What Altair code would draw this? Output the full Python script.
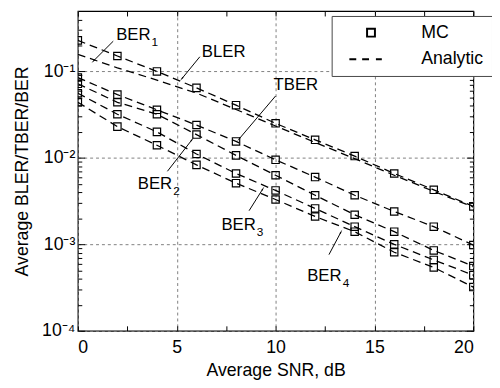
import math
import altair as alt
import pandas as pd

# ---------------- data ----------------
snr = [0, 2, 4, 6, 8, 10, 12, 14, 16, 18, 20]

bler = [0.229, 0.151, 0.100, 0.0646, 0.0407, 0.0251, 0.0162, 0.0105, 0.0066, 0.00427, 0.00275]
ber1 = [0.158, 0.110, 0.0794, 0.0562, 0.0363, 0.0234, 0.0151, 0.0098, 0.0063, 0.0041, 0.0027]
tber = [0.085, 0.054, 0.036, 0.024, 0.0155, 0.0095, 0.0060, 0.0037, 0.0024, 0.0016, 0.00098]
ber2 = [0.072, 0.044, 0.032, 0.0186, 0.0107, 0.0063, 0.0037, 0.0022, 0.0014, 0.00085, 0.00056]
ber3 = [0.056, 0.032, 0.020, 0.0111, 0.0066, 0.0042, 0.0026, 0.0016, 0.0010, 0.00066, 0.00044]
ber4 = [0.044, 0.023, 0.014, 0.0083, 0.0051, 0.0033, 0.0021, 0.0014, 0.00081, 0.00054, 0.00032]

mc_bler = [0.229, 0.151, 0.100, 0.0646, 0.0407, 0.0251, 0.0162, 0.0105, 0.0066, 0.00427, 0.00275]
mc_tber = [0.085, 0.054, 0.036, 0.024, 0.0155, 0.0095, 0.0060, 0.0037, 0.0024, 0.0016, 0.00098]
mc_ber2 = [0.072, 0.044, 0.032, 0.0186, 0.0107, 0.0063, 0.0037, 0.0022, 0.0014, 0.00085, 0.00056]
mc_ber3 = [0.056, 0.032, 0.020, 0.0111, 0.0066, 0.0042, 0.0026, 0.0016, 0.0010, 0.00066, 0.00044]
mc_ber4 = [0.044, 0.023, 0.014, 0.0083, 0.0051, 0.0033, 0.0021, 0.0014, 0.00081, 0.00054, 0.00032]

# annotation labels (data coordinates)
ann_name = ["BER", "BLER", "TBER", "BER", "BER", "BER"]
ann_sub = ["1", "", "", "2", "3", "4"]
ann_x = [1.94, 6.27, 9.9, 3.03, 7.26, 11.6]
ann_y = [0.263, 0.168, 0.069, 0.0050, 0.00166, 0.00043]
# arrows: start -> tip
arr_x1 = [1.79, 6.17, 10.0, 4.53, 8.66, 12.7]
arr_y1 = [0.224, 0.148, 0.052, 0.0070, 0.00245, 0.00076]
arr_x2 = [0.8, 5.27, 8.16, 5.77, 9.35, 13.3]
arr_y2 = [0.133, 0.083, 0.0166, 0.0162, 0.00436, 0.00138]

x_labels = [0, 5, 10, 15, 20]
y_labels = [1e-4, 1e-3, 1e-2, 1e-1]
legend_items = ["MC", "Analytic"]

# ---------------- styling ----------------
W, H = 402, 325
FONT = "Liberation Sans"
YMIN, YMAX = 1e-4, 0.5
xs = alt.Scale(domain=[0, 20], nice=False, zero=False)
ys = alt.Scale(type="log", domain=[YMIN, YMAX], nice=False)
DASH_PATH = "M-5.5,0L-3.75,0M-2.25,0L-0.5,0M1.25,0L2.75,0"

analytic = {"BLER": bler, "BER1": ber1, "TBER": tber, "BER2": ber2, "BER3": ber3, "BER4": ber4}
mc = {"BLER": mc_bler, "TBER": mc_tber, "BER2": mc_ber2, "BER3": mc_ber3, "BER4": mc_ber4}

line_df = pd.DataFrame([{"snr": s, "val": v, "series": k}
                        for k, arr in analytic.items() for s, v in zip(snr, arr)])
mc_df = pd.DataFrame([{"snr": s, "val": v, "series": k, "kind": "MC"}
                      for k, arr in mc.items() for s, v in zip(snr, arr)])

ann_df = pd.DataFrame({"name": ann_name, "sub": ann_sub, "x": ann_x, "y": ann_y})


def px(x):
    return x / 20 * W


def py(v):
    return (math.log10(YMAX) - math.log10(v)) / (math.log10(YMAX) - math.log10(YMIN)) * H


angles = []
for a, b, c, d in zip(arr_x1, arr_y1, arr_x2, arr_y2):
    dx = px(c) - px(a)
    dy = py(d) - py(b)
    angles.append(math.degrees(math.atan2(dx, -dy)) % 360)

arr_df = pd.DataFrame({"x1": arr_x1, "y1": arr_y1, "x2": arr_x2, "y2": arr_y2, "ang": angles})

label_expr = ("datum.value < 0.0005 ? '10\u207b\u2074' : datum.value < 0.005 ? '10\u207b\u00b3' : "
              "datum.value < 0.05 ? '10\u207b\u00b2' : '10\u207b\u00b9'")

lines = alt.Chart(line_df).mark_line(color="black", strokeWidth=1.3, strokeDash=[8, 5], clip=True).encode(
    x=alt.X("snr:Q", scale=xs, axis=alt.Axis(
        values=x_labels, title="Average SNR, dB", format="d", grid=True, gridDash=[3, 3],
        gridColor="#808080", gridWidth=1, domain=False, ticks=False, labelPadding=8,
        labelFont=FONT, labelFontSize=18, labelColor="black", titleFont=FONT, titleFontSize=18,
        titleColor="black", titleFontWeight="normal", titlePadding=5)),
    y=alt.Y("val:Q", scale=ys, axis=alt.Axis(
        values=y_labels, labelExpr=label_expr, title="Average BLER/TBER/BER", grid=True,
        gridDash=[3, 3], gridColor="#808080", gridWidth=1, domain=False, ticks=False,
        labelPadding=3, labelFont=FONT, labelFontSize=18, labelColor="black", titleFont=FONT,
        titleFontSize=18, titleColor="black", titleFontWeight="normal", titlePadding=10)),
    detail="series:N",
)

points = alt.Chart(mc_df).mark_point(filled=False, color="black", size=56, strokeWidth=1.2,
                                     opacity=1, clip=True).encode(
    x=alt.X("snr:Q", scale=xs, axis=None),
    y=alt.Y("val:Q", scale=ys, axis=None),
    shape=alt.Shape("kind:N", scale=alt.Scale(domain=legend_items, range=["square", DASH_PATH]),
                    legend=alt.Legend(
                        title=None, orient="none", legendX=258, legendY=5, direction="vertical",
                        fillColor="white", strokeColor="#444", padding=8, labelFont=FONT,
                        labelFontSize=18, labelColor="black", symbolSize=64,
                        symbolStrokeColor="black", symbolFillColor="white", symbolStrokeWidth=2,
                        symbolOffset=23, labelOffset=42, rowPadding=9,
                        labelExpr="datum.label + '  '")),
)

texts = alt.Chart(ann_df).mark_text(align="left", baseline="middle", font=FONT, fontSize=17, color="black").encode(
    x=alt.X("x:Q", scale=xs, axis=None), y=alt.Y("y:Q", scale=ys, axis=None), text="name:N")

subs = alt.Chart(ann_df).transform_filter("datum.sub != ''").mark_text(
    align="left", baseline="middle", font=FONT, fontSize=12, color="black", dx=36, dy=7).encode(
    x=alt.X("x:Q", scale=xs, axis=None), y=alt.Y("y:Q", scale=ys, axis=None), text="sub:N")

arrows = alt.Chart(arr_df).mark_rule(color="black", strokeWidth=1).encode(
    x=alt.X("x1:Q", scale=xs, axis=None), y=alt.Y("y1:Q", scale=ys, axis=None),
    x2="x2:Q", y2="y2:Q")

heads = alt.Chart(arr_df).mark_point(shape="wedge", filled=True, color="black", size=30, opacity=1).encode(
    x=alt.X("x2:Q", scale=xs, axis=None), y=alt.Y("y2:Q", scale=ys, axis=None),
    angle=alt.Angle("ang:Q", scale=None))

minor_y = [d * k for d in y_labels for k in range(2, 10) if d * k < 0.46]
minor_x = [i * 2.5 for i in range(9)]


def tick_layer(channel, orient, values, size):
    base = alt.Chart(line_df).mark_point(opacity=0)
    ax = alt.Axis(orient=orient, values=values, labels=False, domain=False, grid=False,
                  ticks=True, tickSize=size, offset=-size, tickColor="black", tickWidth=1, title=None)
    if channel == "x":
        return base.encode(x=alt.X("snr:Q", scale=xs, axis=ax), y=alt.Y("val:Q", scale=ys, axis=None))
    return base.encode(x=alt.X("snr:Q", scale=xs, axis=None), y=alt.Y("val:Q", scale=ys, axis=ax))


ticks = [
    tick_layer("y", "left", minor_y, 4),
    tick_layer("y", "left", y_labels, 7),
    tick_layer("y", "right", minor_y, 4),
    tick_layer("y", "right", y_labels, 7),
    tick_layer("x", "bottom", minor_x, 5),
    tick_layer("x", "top", minor_x, 5),
]

chart = alt.layer(lines, points, arrows, heads, texts, subs, *ticks).resolve_axis(
    x="independent", y="independent"
).properties(
    width=W, height=H,
    autosize=alt.AutoSizeParams(type="none"),
    padding={"left": 71, "top": 0, "right": 19, "bottom": 50},
).configure_view(stroke="black", strokeWidth=1.2)

chart.save("out.html", embed_options={"renderer": "svg", "actions": False})
